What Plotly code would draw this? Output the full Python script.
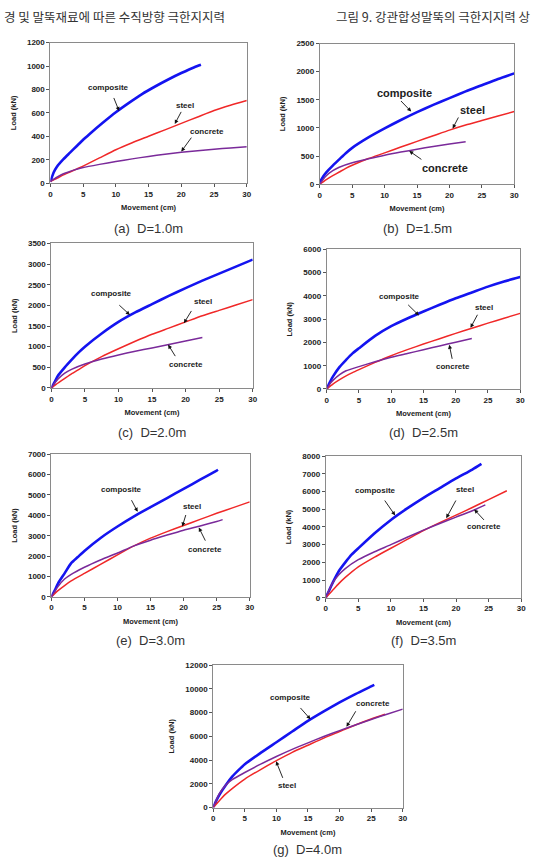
import plotly.graph_objects as go

# ---------------- data ----------------
# (a) D=1.0m
A_X_COMP = [0, 0.5, 1, 2, 3, 4, 5, 6, 8, 10, 12, 14, 16, 18, 20, 22, 23]
A_Y_COMP = [10, 90, 140, 205, 260, 315, 370, 420, 515, 605, 685, 760, 825, 885, 940, 990, 1010]
A_X_STEEL = [0, 1, 2, 3, 4, 5, 7.5, 10, 12.5, 15, 17.5, 20, 22.5, 25, 27.5, 30]
A_Y_STEEL = [15, 40, 70, 95, 120, 145, 215, 285, 345, 400, 455, 510, 565, 620, 665, 705]
A_X_CONC = [0, 1, 2, 3, 4, 5, 7.5, 10, 12.5, 15, 17.5, 20, 22.5, 25, 27.5, 30]
A_Y_CONC = [15, 50, 80, 100, 118, 133, 160, 185, 207, 228, 247, 263, 277, 290, 300, 310]

# (b) D=1.5m
B_X_COMP = [0, 0.5, 1, 2, 3, 4, 5, 7.5, 10, 12.5, 15, 17.5, 20, 22.5, 25, 27.5, 30]
B_Y_COMP = [30, 130, 210, 330, 440, 550, 645, 830, 990, 1140, 1280, 1410, 1530, 1650, 1760, 1870, 1970]
B_X_STEEL = [0, 0.5, 1, 2, 3, 4, 5, 7.5, 10, 12.5, 15, 17.5, 20, 22.5, 25, 27.5, 30]
B_Y_STEEL = [0, 40, 80, 150, 215, 280, 335, 455, 555, 660, 760, 860, 960, 1050, 1130, 1210, 1290]
B_X_CONC = [0, 0.5, 1, 2, 3, 5, 7.5, 10, 12.5, 15, 17.5, 20, 22.5]
B_Y_CONC = [0, 80, 150, 240, 300, 380, 450, 515, 570, 620, 670, 715, 755]

# (c) D=2.0m
C_X_COMP = [0, 0.5, 1, 2, 3, 4, 5, 7.5, 10, 12.5, 15, 17.5, 20, 22.5, 25, 27.5, 30]
C_Y_COMP = [0, 150, 300, 500, 680, 850, 1000, 1320, 1600, 1830, 2030, 2230, 2420, 2600, 2770, 2940, 3110]
C_X_STEEL = [0, 0.5, 1, 2, 3, 4, 5, 7.5, 10, 12.5, 15, 17.5, 20, 22.5, 25, 27.5, 30]
C_Y_STEEL = [0, 60, 120, 230, 340, 440, 540, 760, 950, 1130, 1300, 1450, 1600, 1750, 1880, 2010, 2140]
C_X_CONC = [0, 0.5, 1, 2, 3, 5, 7.5, 10, 12.5, 15, 17.5, 20, 22.5]
C_Y_CONC = [0, 120, 220, 360, 450, 580, 700, 800, 890, 970, 1055, 1140, 1220]

# (d) D=2.5m
D_X_COMP = [0, 0.5, 1, 2, 3, 4, 5, 7.5, 10, 12.5, 15, 17.5, 20, 22.5, 25, 27.5, 30]
D_Y_COMP = [0, 300, 550, 950, 1250, 1530, 1750, 2280, 2700, 3030, 3330, 3620, 3900, 4150, 4400, 4620, 4810]
D_X_STEEL = [0, 0.5, 1, 2, 3, 4, 5, 7.5, 10, 12.5, 15, 17.5, 20, 22.5, 25, 27.5, 30]
D_Y_STEEL = [0, 110, 220, 400, 560, 700, 830, 1140, 1430, 1690, 1930, 2160, 2390, 2610, 2830, 3040, 3250]
D_X_CONC = [0, 0.5, 1, 2, 3, 5, 7.5, 10, 12.5, 15, 17.5, 20, 22.5]
D_Y_CONC = [0, 220, 380, 620, 780, 960, 1170, 1360, 1520, 1690, 1850, 2010, 2170]

# (e) D=3.0m
E_X_COMP = [0, 0.5, 1, 2, 3, 4, 5, 7.5, 10, 12.5, 15, 17.5, 20, 22.5, 25, 25.2]
E_Y_COMP = [0, 300, 650, 1150, 1650, 1950, 2250, 2900, 3450, 3950, 4400, 4850, 5300, 5750, 6200, 6240]
E_X_STEEL = [0, 1, 2, 3, 5, 7.5, 10, 12.5, 15, 17.5, 20, 22.5, 25, 27.5, 30]
E_Y_STEEL = [0, 300, 550, 780, 1150, 1600, 2060, 2500, 2880, 3200, 3500, 3800, 4100, 4380, 4660]
E_X_CONC = [0, 1, 2, 3, 5, 7.5, 10, 12.5, 15, 17.5, 20, 22.5, 25, 25.9]
E_Y_CONC = [0, 500, 870, 1100, 1450, 1820, 2150, 2500, 2780, 3030, 3270, 3480, 3700, 3790]

# (f) D=3.5m
F_X_COMP = [0, 0.5, 1, 2, 3, 4, 5, 7.5, 10, 12.5, 15, 17.5, 20, 22.5, 23.9]
F_Y_COMP = [0, 400, 800, 1500, 2000, 2450, 2800, 3650, 4400, 5050, 5650, 6200, 6750, 7250, 7570]
F_X_STEEL = [0, 1, 2, 3, 5, 7.5, 10, 12.5, 15, 17.5, 20, 22.5, 25, 27.8]
F_Y_STEEL = [0, 400, 800, 1150, 1750, 2300, 2800, 3300, 3800, 4250, 4670, 5100, 5550, 6050]
F_X_CONC = [0, 1, 2, 3, 5, 7.5, 10, 12.5, 15, 17.5, 20, 22.5, 24.5]
F_Y_CONC = [0, 800, 1300, 1650, 2150, 2600, 3000, 3420, 3820, 4200, 4560, 4920, 5250]

# (g) D=4.0m
G_X_COMP = [0, 0.5, 1, 2, 3, 4, 5, 7.5, 10, 12.5, 15, 17.5, 20, 22.5, 25, 25.5]
G_Y_COMP = [0, 600, 1100, 1900, 2600, 3150, 3650, 4600, 5500, 6400, 7300, 8100, 8850, 9550, 10200, 10330]
G_X_STEEL = [0, 1, 2, 3, 5, 7.5, 10, 12.5, 15, 17.5, 20, 22.5, 25, 27.2]
G_Y_STEEL = [0, 600, 1150, 1600, 2400, 3200, 3950, 4650, 5250, 5850, 6400, 6950, 7450, 7850]
G_X_CONC = [0, 1, 2, 3, 5, 7.5, 10, 12.5, 15, 17.5, 20, 22.5, 25, 27.5, 30]
G_Y_CONC = [0, 1200, 1900, 2350, 2950, 3650, 4300, 4900, 5450, 5980, 6480, 6950, 7420, 7860, 8290]

CAPTIONS = ["(a)  D=1.0m", "(b)  D=1.5m", "(c)  D=2.0m", "(d)  D=2.5m",
            "(e)  D=3.0m", "(f)  D=3.5m", "(g)  D=4.0m"]
Y_MAX = [1200, 2500, 3500, 6000, 7000, 8000, 12000]
Y_STEP = [200, 500, 500, 1000, 1000, 1000, 2000]
SERIES_NAMES = ["composite", "steel", "concrete"]

HEADER_LEFT = "경 및 말뚝재료에 따른 수직방향 극한지지력"
HEADER_RIGHT = "그림 9. 강관합성말뚝의 극한지지력 상"

# ---------------- layout / style ----------------
W, H = 539, 864
# plot-area pixel boxes (left, right, top, bottom)
BOXES = [(49, 248, 39, 181), (322, 519, 40, 182),
         (50, 254, 242, 388), (329, 525, 248, 389),
         (50, 251, 455, 599), (328, 526, 457, 600),
         (214, 406, 668, 812)]
CAPTION_Y = [227, 227, 433, 433, 643, 643, 854]

COLORS = {"composite": "#1414f0", "steel": "#f02828", "concrete": "#7a2a9a"}
WIDTHS = {"composite": 2.6, "steel": 1.5, "concrete": 1.5}

panels = [
    (A_X_COMP, A_Y_COMP, A_X_STEEL, A_Y_STEEL, A_X_CONC, A_Y_CONC),
    (B_X_COMP, B_Y_COMP, B_X_STEEL, B_Y_STEEL, B_X_CONC, B_Y_CONC),
    (C_X_COMP, C_Y_COMP, C_X_STEEL, C_Y_STEEL, C_X_CONC, C_Y_CONC),
    (D_X_COMP, D_Y_COMP, D_X_STEEL, D_Y_STEEL, D_X_CONC, D_Y_CONC),
    (E_X_COMP, E_Y_COMP, E_X_STEEL, E_Y_STEEL, E_X_CONC, E_Y_CONC),
    (F_X_COMP, F_Y_COMP, F_X_STEEL, F_Y_STEEL, F_X_CONC, F_Y_CONC),
    (G_X_COMP, G_Y_COMP, G_X_STEEL, G_Y_STEEL, G_X_CONC, G_Y_CONC),
]

# label placements: (text_x, text_y, tail_x, tail_y, head_x, head_y) per series
LABELS = [
    {"composite": (8.9, 816, 9.6, 740, 10.5, 615),
     "steel": (20.5, 661, 20.1, 621, 19.0, 505),
     "concrete": (24.0, 438, 21.7, 401, 20.0, 270)},
    {"composite": (13.1, 1622, 12.3, 1505, 14.1, 1290),
     "steel": (23.5, 1311, 21.5, 1212, 20.5, 990),
     "concrete": (19.3, 293, 15.9, 421, 13.8, 590)},
    {"composite": (9.0, 2278, 9.9, 2038, 11.7, 1770),
     "steel": (22.6, 2094, 21.0, 1902, 19.75, 1570),
     "concrete": (20.1, 575, 18.6, 735, 17.4, 1050)},
    {"composite": (11.3, 3962, 12.4, 3679, 14.3, 3160),
     "steel": (24.4, 3509, 23.5, 3255, 22.3, 2630),
     "concrete": (19.6, 948, 19.5, 1231, 19.0, 1900)},
    {"composite": (10.6, 5270, 12.0, 4817, 13.05, 4170),
     "steel": (21.3, 4413, 20.4, 4090, 19.8, 3450),
     "concrete": (23.3, 2344, 23.4, 2683, 22.3, 3400)},
    {"composite": (7.6, 6047, 8.9, 5581, 10.66, 4650),
     "steel": (21.4, 6102, 20.1, 5581, 18.5, 4500),
     "concrete": (24.3, 4000, 24.5, 4316, 22.8, 4990)},
    {"composite": (12.3, 9265, 13.6, 8512, 15.4, 7430),
     "concrete": (25.3, 8791, 22.7, 8233, 21.1, 6800),
     "steel": (11.6, 1870, 11.1, 2372, 9.95, 3900)},
]
LABEL_SIZE = [8, 11, 8, 8, 8, 8, 8]

FONT = "Arial, Liberation Sans, Helvetica, sans-serif"
TXT = "#222222"

fig = go.Figure()
layout = dict(width=W, height=H, margin=dict(l=0, r=0, t=0, b=0),
              paper_bgcolor="white", plot_bgcolor="white", showlegend=False,
              font=dict(family=FONT, color=TXT))
annotations = []

for i, data in enumerate(panels):
    n = i + 1
    xa = "x" if n == 1 else f"x{n}"
    ya = "y" if n == 1 else f"y{n}"
    l, r, t, b = BOXES[i]
    for k, name in enumerate(SERIES_NAMES):
        xs, ys = data[2 * k], data[2 * k + 1]
        fig.add_trace(go.Scatter(x=xs, y=ys, mode="lines", xaxis=xa, yaxis=ya,
                                 line=dict(color=COLORS[name], width=WIDTHS[name],
                                           shape="spline", smoothing=0.6),
                                 name=name, hoverinfo="skip"))
    axcommon = dict(showline=True, linecolor="#8a8a8a", linewidth=1, mirror=True,
                    showgrid=False, zeroline=False, ticks="outside", ticklen=3,
                    tickcolor="#555555", tickformat="d",
                    tickfont=dict(size=8, family=FONT, color=TXT, weight="bold"))
    layout["xaxis" if n == 1 else f"xaxis{n}"] = dict(
        axcommon, domain=[l / W, r / W], anchor=ya, range=[0, 30],
        tick0=0, dtick=5,
        title=dict(text="Movement (cm)", standoff=7,
                   font=dict(size=7.5, family=FONT, color=TXT, weight="bold")))
    layout["yaxis" if n == 1 else f"yaxis{n}"] = dict(
        axcommon, domain=[1 - b / H, 1 - t / H], anchor=xa,
        range=[0, Y_MAX[i]], tick0=0, dtick=Y_STEP[i],
        title=dict(text="Load (kN)", standoff=9,
                   font=dict(size=7.5, family=FONT, color=TXT, weight="bold")))
    # caption
    annotations.append(dict(text=CAPTIONS[i], xref="paper", yref="paper",
                            x=(l + r) / 2 / W, y=1 - CAPTION_Y[i] / H,
                            xanchor="center", yanchor="middle", showarrow=False,
                            font=dict(size=13, family=FONT, color="#333333")))
    for name, (tx, ty, ax_, ay_, hx, hy) in LABELS[i].items():
        annotations.append(dict(text=name, xref=xa, yref=ya, x=tx, y=ty,
                                showarrow=False, xanchor="center", yanchor="middle",
                                font=dict(size=LABEL_SIZE[i], family=FONT,
                                          color=TXT, weight="bold")))
        annotations.append(dict(text="", xref=xa, yref=ya, x=hx, y=hy,
                                axref=xa, ayref=ya, ax=ax_, ay=ay_,
                                showarrow=True, arrowhead=2, arrowsize=0.9,
                                arrowwidth=0.9, arrowcolor="#111111", standoff=0))

# header lines at the very top of the page
annotations.append(dict(text=HEADER_LEFT, xref="paper", yref="paper",
                        x=0, y=1 - 1 / H, xanchor="left", yanchor="top",
                        showarrow=False,
                        font=dict(size=12.5, family="Noto Sans CJK KR", color="#333333")))
annotations.append(dict(text=HEADER_RIGHT, xref="paper", yref="paper",
                        x=336 / W, y=1 - 1 / H, xanchor="left", yanchor="top",
                        showarrow=False,
                        font=dict(size=12.5, family="Noto Sans CJK KR", color="#333333")))

layout["annotations"] = annotations
fig.update_layout(**layout)
fig.write_html("out.html")
